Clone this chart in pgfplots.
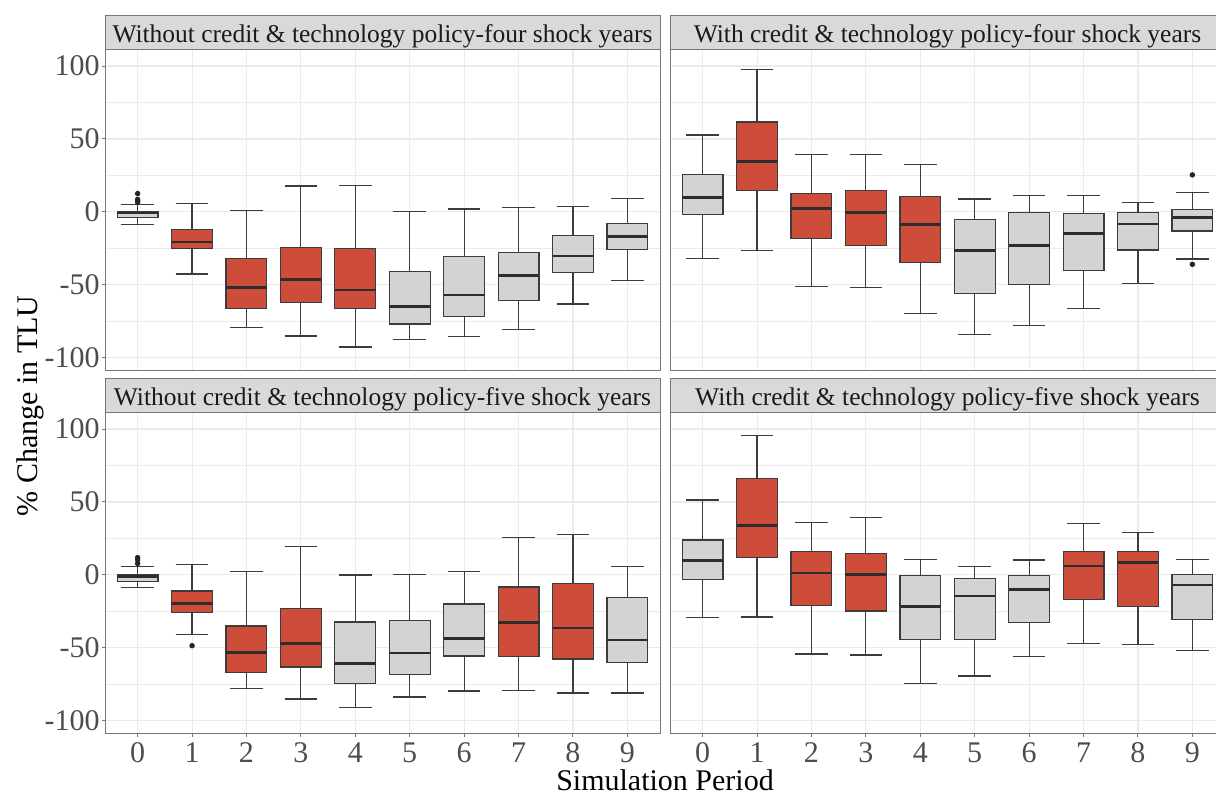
\documentclass[border=0pt]{standalone}
\usepackage{fontspec}
\setmainfont{Liberation Serif}
\usepackage{pgfplots}
\pgfplotsset{compat=1.18}
\usepgfplotslibrary{statistics}
\definecolor{boxred}{RGB}{205,77,58}
\definecolor{boxgray}{RGB}{211,211,211}
\definecolor{boxline}{RGB}{60,60,60}
\definecolor{medline}{RGB}{45,45,45}
\definecolor{stripc}{RGB}{217,217,217}
\definecolor{stripfg}{RGB}{26,26,26}
\definecolor{borderc}{RGB}{120,120,120}
\definecolor{tickc}{RGB}{77,77,77}
\definecolor{gridc}{RGB}{235,235,235}
\pgfplotsset{
  panel/.style={
    scale only axis, width=277.5pt, height=160.5pt,
    xmin=-0.6, xmax=9.6, ymin=-109, ymax=111,
    xtick={0,1,2,3,4,5,6,7,8,9},
    xticklabels={0,1,2,3,4,5,6,7,8,9},
    ytick={-100,-50,0,50,100},
    yticklabels={-100,-50,0,50,100},
    minor ytick={-75,-25,25,75},
    grid=both,
    major grid style={draw=gridc, line width=0.55pt},
    minor grid style={draw=gridc, line width=0.3pt},
    axis line style={draw=borderc, line width=0.5pt},
    tick style={draw=borderc, line width=0.5pt},
    tick align=outside, major tick length=1.5pt, minor tick length=0pt,
    xtick pos=bottom, ytick pos=left,
    tick label style={font=\fontsize{15}{18}\selectfont, text=tickc},
    xticklabel style={text height=10.2pt, text depth=0pt, yshift=0.8pt},
    yticklabel style={inner xsep=1pt},
    boxplot/draw direction=y,
    boxplot/box extend=0.75,
    boxplot/whisker extend=0.6,
    boxplot/every median/.style={draw=medline, line width=1.4pt},
  },
  redbox/.style={fill=boxred, draw=boxline, line width=0.6pt},
  graybox/.style={fill=boxgray, draw=boxline, line width=0.6pt},
  outl/.style={only marks, mark=*, mark size=1.15pt, draw=black!85, fill=black!85},
}
\begin{document}
\begin{tikzpicture}
% ---------------- top left ----------------
\begin{axis}[panel, at={(52.5pt,212.5pt)}, anchor=south west, xticklabels={}, xtick style={draw=none}]
\addplot[graybox, boxplot prepared={draw position=0, lower whisker=-8.5, lower quartile=-3.7, median=-0.7, upper quartile=0.3, upper whisker=5.3}] coordinates {};
\addplot[redbox, boxplot prepared={draw position=1, lower whisker=-42.5, lower quartile=-24.9, median=-20.6, upper quartile=-12.3, upper whisker=5.7}] coordinates {};
\addplot[redbox, boxplot prepared={draw position=2, lower whisker=-79.1, lower quartile=-66.3, median=-51.9, upper quartile=-32.0, upper whisker=0.9}] coordinates {};
\addplot[redbox, boxplot prepared={draw position=3, lower whisker=-85.0, lower quartile=-61.9, median=-46.2, upper quartile=-24.2, upper whisker=17.8}] coordinates {};
\addplot[redbox, boxplot prepared={draw position=4, lower whisker=-92.6, lower quartile=-66.3, median=-53.5, upper quartile=-24.9, upper whisker=18.1}] coordinates {};
\addplot[graybox, boxplot prepared={draw position=5, lower whisker=-87.5, lower quartile=-76.8, median=-64.7, upper quartile=-40.7, upper whisker=0.2}] coordinates {};
\addplot[graybox, boxplot prepared={draw position=6, lower whisker=-85.3, lower quartile=-71.8, median=-56.9, upper quartile=-30.6, upper whisker=2.0}] coordinates {};
\addplot[graybox, boxplot prepared={draw position=7, lower whisker=-80.5, lower quartile=-60.6, median=-43.7, upper quartile=-27.9, upper whisker=3.0}] coordinates {};
\addplot[graybox, boxplot prepared={draw position=8, lower whisker=-63.1, lower quartile=-41.6, median=-30.2, upper quartile=-16.2, upper whisker=3.7}] coordinates {};
\addplot[graybox, boxplot prepared={draw position=9, lower whisker=-46.9, lower quartile=-25.8, median=-16.7, upper quartile=-8.0, upper whisker=9.4}] coordinates {};
\addplot[outl] coordinates {(0,12.6) (0,8.6) (0,7.6) (0,6.6)};
\end{axis}
% ---------------- top right ----------------
\begin{axis}[panel, at={(335pt,212.5pt)}, anchor=south west, xticklabels={}, xtick style={draw=none}, yticklabels={}, ytick style={draw=none}]
\addplot[graybox, boxplot prepared={draw position=0, lower whisker=-31.8, lower quartile=-1.8, median=10.0, upper quartile=25.8, upper whisker=52.8}] coordinates {};
\addplot[redbox, boxplot prepared={draw position=1, lower whisker=-26.3, lower quartile=14.6, median=34.5, upper quartile=61.7, upper whisker=97.6}] coordinates {};
\addplot[redbox, boxplot prepared={draw position=2, lower whisker=-51.0, lower quartile=-18.1, median=2.5, upper quartile=12.8, upper whisker=39.1}] coordinates {};
\addplot[redbox, boxplot prepared={draw position=3, lower whisker=-51.9, lower quartile=-22.9, median=-0.2, upper quartile=14.6, upper whisker=39.5}] coordinates {};
\addplot[redbox, boxplot prepared={draw position=4, lower whisker=-69.7, lower quartile=-34.5, median=-8.7, upper quartile=10.7, upper whisker=32.7}] coordinates {};
\addplot[graybox, boxplot prepared={draw position=5, lower whisker=-84.1, lower quartile=-56.0, median=-26.3, upper quartile=-5.3, upper whisker=8.9}] coordinates {};
\addplot[graybox, boxplot prepared={draw position=6, lower whisker=-77.7, lower quartile=-49.8, median=-23.1, upper quartile=-0.2, upper whisker=11.0}] coordinates {};
\addplot[graybox, boxplot prepared={draw position=7, lower whisker=-66.1, lower quartile=-40.0, median=-14.9, upper quartile=-1.1, upper whisker=11.4}] coordinates {};
\addplot[graybox, boxplot prepared={draw position=8, lower whisker=-49.1, lower quartile=-26.1, median=-8.2, upper quartile=-0.2, upper whisker=6.6}] coordinates {};
\addplot[graybox, boxplot prepared={draw position=9, lower whisker=-32.2, lower quartile=-13.0, median=-3.7, upper quartile=1.6, upper whisker=13.5}] coordinates {};
\addplot[outl] coordinates {(9,25.4) (9,-35.9)};
\end{axis}
% ---------------- bottom left ----------------
\begin{axis}[panel, at={(52.5pt,31pt)}, anchor=south west]
\addplot[graybox, boxplot prepared={draw position=0, lower whisker=-8.5, lower quartile=-4.3, median=-1.1, upper quartile=0.0, upper whisker=5.7}] coordinates {};
\addplot[redbox, boxplot prepared={draw position=1, lower whisker=-40.9, lower quartile=-25.6, median=-19.4, upper quartile=-11.0, upper whisker=6.9}] coordinates {};
\addplot[redbox, boxplot prepared={draw position=2, lower whisker=-78.0, lower quartile=-67.0, median=-53.3, upper quartile=-35.0, upper whisker=2.5}] coordinates {};
\addplot[redbox, boxplot prepared={draw position=3, lower whisker=-85.0, lower quartile=-63.1, median=-47.1, upper quartile=-22.9, upper whisker=19.7}] coordinates {};
\addplot[graybox, boxplot prepared={draw position=4, lower whisker=-90.7, lower quartile=-74.3, median=-60.8, upper quartile=-32.2, upper whisker=0.0}] coordinates {};
\addplot[graybox, boxplot prepared={draw position=5, lower whisker=-83.7, lower quartile=-68.1, median=-53.5, upper quartile=-31.1, upper whisker=0.2}] coordinates {};
\addplot[graybox, boxplot prepared={draw position=6, lower whisker=-79.5, lower quartile=-55.5, median=-43.7, upper quartile=-19.9, upper whisker=2.5}] coordinates {};
\addplot[redbox, boxplot prepared={draw position=7, lower whisker=-79.1, lower quartile=-56.0, median=-32.5, upper quartile=-8.2, upper whisker=25.4}] coordinates {};
\addplot[redbox, boxplot prepared={draw position=8, lower whisker=-80.9, lower quartile=-57.6, median=-36.3, upper quartile=-5.7, upper whisker=27.7}] coordinates {};
\addplot[graybox, boxplot prepared={draw position=9, lower whisker=-80.9, lower quartile=-60.1, median=-44.6, upper quartile=-15.5, upper whisker=5.7}] coordinates {};
\addplot[outl] coordinates {(0,11.9) (0,10.3) (0,7.8) (1,-48.5)};
\end{axis}
% ---------------- bottom right ----------------
\begin{axis}[panel, at={(335pt,31pt)}, anchor=south west, yticklabels={}, ytick style={draw=none}]
\addplot[graybox, boxplot prepared={draw position=0, lower whisker=-29.0, lower quartile=-3.0, median=10.1, upper quartile=24.0, upper whisker=51.4}] coordinates {};
\addplot[redbox, boxplot prepared={draw position=1, lower whisker=-28.8, lower quartile=11.9, median=33.8, upper quartile=66.1, upper whisker=95.3}] coordinates {};
\addplot[redbox, boxplot prepared={draw position=2, lower whisker=-54.2, lower quartile=-20.8, median=1.4, upper quartile=16.0, upper whisker=35.7}] coordinates {};
\addplot[redbox, boxplot prepared={draw position=3, lower whisker=-54.9, lower quartile=-24.7, median=0.2, upper quartile=14.9, upper whisker=39.1}] coordinates {};
\addplot[graybox, boxplot prepared={draw position=4, lower whisker=-74.3, lower quartile=-44.1, median=-21.5, upper quartile=-0.5, upper whisker=10.5}] coordinates {};
\addplot[graybox, boxplot prepared={draw position=5, lower whisker=-69.3, lower quartile=-44.1, median=-14.4, upper quartile=-2.5, upper whisker=5.7}] coordinates {};
\addplot[graybox, boxplot prepared={draw position=6, lower whisker=-56.0, lower quartile=-32.7, median=-10.1, upper quartile=-0.5, upper whisker=10.3}] coordinates {};
\addplot[redbox, boxplot prepared={draw position=7, lower whisker=-47.1, lower quartile=-17.1, median=6.2, upper quartile=16.0, upper whisker=35.2}] coordinates {};
\addplot[redbox, boxplot prepared={draw position=8, lower whisker=-47.8, lower quartile=-21.5, median=8.7, upper quartile=16.2, upper whisker=29.0}] coordinates {};
\addplot[graybox, boxplot prepared={draw position=9, lower whisker=-51.9, lower quartile=-30.6, median=-6.9, upper quartile=0.5, upper whisker=10.5}] coordinates {};
\end{axis}
% ---------------- strips ----------------
\draw[fill=stripc, draw=borderc, line width=0.5pt] (52.5pt,373pt) rectangle (330pt,390pt);
\draw[fill=stripc, draw=borderc, line width=0.5pt] (335pt,373pt) rectangle (612.5pt,390pt);
\draw[fill=stripc, draw=borderc, line width=0.5pt] (52.5pt,191.5pt) rectangle (330pt,208.5pt);
\draw[fill=stripc, draw=borderc, line width=0.5pt] (335pt,191.5pt) rectangle (612.5pt,208.5pt);
\begin{scope}[every node/.style={font=\fontsize{12.75}{15}\selectfont, text=stripfg, anchor=base, inner sep=0pt}]
\node at (191.25pt,376.9pt) {Without credit \& technology policy-four shock years};
\node at (473.75pt,376.9pt) {With credit \& technology policy-four shock years};
\node at (191.25pt,195.4pt) {Without credit \& technology policy-five shock years};
\node at (473.75pt,195.4pt) {With credit \& technology policy-five shock years};
\end{scope}
% ---------------- axis titles ----------------
\node[font=\fontsize{15}{18}\selectfont, anchor=base, inner sep=0pt] at (332.5pt,2.5pt) {Simulation Period};
\node[font=\fontsize{15}{18}\selectfont, rotate=90, anchor=base, inner sep=0pt] at (18.5pt,195pt) {\% Change in TLU};
\pgfresetboundingbox
\useasboundingbox (0,0) rectangle (608pt,398pt);
\end{tikzpicture}
\end{document}
